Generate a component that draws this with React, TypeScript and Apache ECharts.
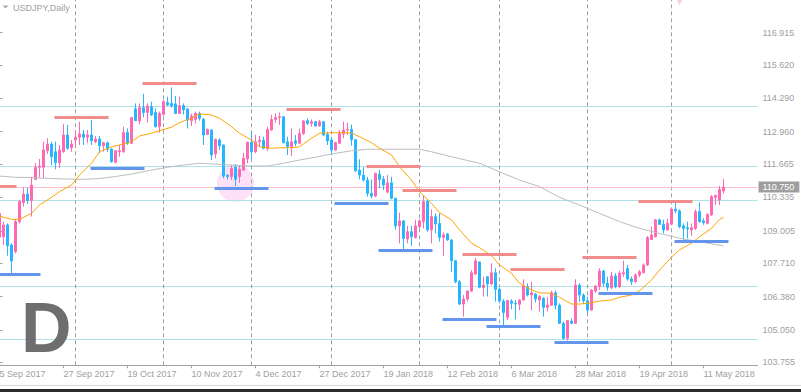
import React, { useEffect, useRef } from "react";
import * as echarts from "echarts";

// ---- trading days (MT4 daily bars), plus a few empty future slots on the right ----
const sep2017 = [5, 6, 7, 8, 11, 12, 13, 14, 15, 18, 19, 20, 21, 22, 25, 26, 27, 28, 29];
const oct2017 = [2, 3, 4, 5, 6, 9, 10, 11, 12, 13, 16, 17, 18, 19, 20, 23, 24, 25, 26, 27, 30, 31];
const nov2017 = [1, 2, 3, 6, 7, 8, 9, 10, 13, 14, 15, 16, 17, 20, 21, 22, 23, 24, 27, 28, 29, 30];
const dec2017 = [1, 4, 5, 6, 7, 8, 11, 12, 13, 14, 15, 18, 19, 20, 21, 22, 26, 27, 28, 29];
const jan2018 = [2, 3, 4, 5, 8, 9, 10, 11, 12, 15, 16, 17, 18, 19, 22, 23, 24, 25, 26, 29, 30, 31];
const feb2018 = [1, 2, 5, 6, 7, 8, 9, 12, 13, 14, 15, 16, 19, 20, 21, 22, 23, 26, 27, 28];
const mar2018 = [1, 2, 5, 6, 7, 8, 9, 12, 13, 14, 15, 16, 19, 20, 21, 22, 23, 26, 27, 28, 29, 30];
const apr2018 = [2, 3, 4, 5, 6, 9, 10, 11, 12, 13, 16, 17, 18, 19, 20, 23, 24, 25, 26, 27, 30];
const may2018 = [1, 2, 3, 4, 7, 8, 9, 10, 11, 14, 15, 16, 17, 18, 21, 22, 23, 24, 25, 28, 29, 30];

const categories: string[] = [
  ...sep2017.map((d) => `${d} Sep 2017`),
  ...oct2017.map((d) => `${d} Oct 2017`),
  ...nov2017.map((d) => `${d} Nov 2017`),
  ...dec2017.map((d) => `${d} Dec 2017`),
  ...jan2018.map((d) => `${d} Jan 2018`),
  ...feb2018.map((d) => `${d} Feb 2018`),
  ...mar2018.map((d) => `${d} Mar 2018`),
  ...apr2018.map((d) => `${d} Apr 2018`),
  ...may2018.map((d) => `${d} May 2018`),
];

// ---- OHLC (USDJPY daily) ----
const opens = [
  108.75, 108.77, 109.24, 108.44, 108.17, 109.37, 110.13, 110.47, 110.21, 111.06,
  111.54, 111.54, 112.2, 112.47, 112.16, 111.72, 112.16, 112.83, 112.32, 112.63,
  112.74, 112.87, 112.74, 112.83, 112.56, 112.67, 112.4, 112.52, 112.27, 111.74,
  112.16, 112.16, 112.93, 112.5, 113.87, 113.39, 113.92, 113.73, 113.96, 113.73,
  113.16, 113.65, 114.13, 114.09, 114.07, 113.69, 114.0, 113.87, 113.4, 113.45,
  113.69, 113.45, 112.85, 113.03, 112.07, 112.63, 112.43, 111.22, 111.17, 111.54,
  111.17, 111.43, 111.87, 112.54, 112.16, 112.56, 112.62, 112.28, 113.03, 113.45,
  113.53, 113.56, 112.56, 112.36, 112.6, 112.5, 112.89, 113.4, 113.29, 113.36,
  113.19, 113.36, 112.85, 112.63, 112.23, 112.5, 112.87, 113.03, 113.05, 112.64,
  111.43, 111.23, 111.03, 110.5, 110.39, 111.26, 111.06, 110.55, 110.92, 110.3,
  109.2, 109.4, 108.68, 108.97, 108.73, 109.17, 109.37, 110.17, 109.04, 109.57,
  109.3, 108.74, 108.88, 108.64, 107.81, 106.97, 106.08, 106.28, 106.6, 107.28,
  107.76, 106.74, 107.17, 106.88, 107.33, 106.67, 106.2, 105.55, 106.2, 106.11,
  106.07, 106.24, 106.77, 106.44, 106.48, 106.24, 106.31, 105.95, 106.03, 106.53,
  106.03, 105.31, 104.71, 105.4, 105.31, 106.84, 106.44, 106.21, 105.84, 106.6,
  106.78, 107.4, 106.91, 106.73, 107.2, 106.77, 107.28, 107.5, 107.08, 106.97,
  107.24, 107.33, 107.64, 108.66, 108.77, 109.44, 109.26, 109.04, 109.27, 109.87,
  109.8, 109.2, 109.13, 109.04, 109.1, 109.77, 109.4, 109.3, 109.64, 110.34,
  110.23, 110.6,
];
const highs = [
  109.78, 109.37, 109.3, 108.5, 109.44, 110.23, 110.74, 110.74, 111.16, 111.7,
  111.87, 112.56, 112.7, 112.56, 112.56, 112.43, 113.27, 113.23, 112.63, 113.03,
  113.36, 113.03, 113.03, 113.43, 112.79, 112.79, 112.56, 112.56, 112.3, 112.23,
  112.43, 113.16, 113.09, 113.56, 114.09, 114.09, 114.47, 114.09, 114.16, 113.89,
  113.76, 114.23, 114.36, 114.73, 114.39, 114.36, 114.09, 113.89, 113.69, 113.76,
  113.76, 113.52, 113.09, 113.05, 112.68, 112.7, 112.45, 111.27, 111.63, 111.67,
  111.63, 112.12, 112.56, 112.96, 112.83, 112.8, 112.76, 113.16, 113.63, 113.69,
  113.73, 113.58, 112.76, 113.09, 112.83, 113.09, 113.43, 113.49, 113.45, 113.39,
  113.43, 113.36, 112.96, 112.76, 112.56, 113.03, 113.36, 113.32, 113.25, 112.66,
  111.86, 111.56, 111.16, 111.06, 111.32, 111.43, 111.19, 111.23, 111.16, 110.32,
  109.73, 109.42, 109.2, 109.2, 109.44, 109.46, 110.43, 110.24, 109.86, 109.7,
  109.7, 108.95, 108.92, 108.66, 107.84, 107.04, 106.44, 106.64, 107.44, 107.91,
  107.77, 107.17, 107.2, 107.71, 107.51, 106.71, 106.27, 106.24, 106.27, 106.24,
  106.27, 107.07, 106.91, 106.97, 106.53, 106.44, 106.35, 106.35, 106.61, 106.61,
  106.11, 105.38, 105.45, 105.51, 107.07, 106.91, 106.51, 106.37, 106.67, 106.84,
  107.51, 107.44, 107.17, 107.37, 107.31, 107.41, 107.81, 107.64, 107.17, 107.31,
  107.44, 107.71, 108.8, 109.17, 109.48, 109.5, 109.44, 109.5, 109.9, 110.13,
  109.86, 109.3, 109.37, 109.3, 109.86, 110.13, 109.5, 109.7, 110.43, 110.43,
  110.8, 111.07,
];
const lows = [
  108.7, 108.44, 108.01, 107.27, 108.1, 109.3, 109.97, 110.07, 109.57, 111.03,
  111.14, 111.1, 112.07, 111.63, 111.46, 111.5, 112.12, 112.23, 112.16, 112.43,
  112.43, 112.43, 112.5, 112.43, 112.5, 112.1, 112.16, 112.16, 111.72, 111.7,
  111.96, 112.12, 112.43, 112.46, 113.39, 113.25, 113.53, 113.32, 113.59, 113.13,
  112.92, 113.6, 113.99, 113.92, 113.67, 113.66, 113.65, 113.09, 113.19, 113.29,
  113.4, 112.43, 112.83, 111.83, 111.9, 112.23, 111.1, 111.06, 111.03, 110.79,
  110.92, 111.4, 111.7, 111.83, 112.1, 112.36, 112.26, 112.2, 113.0, 113.32,
  113.23, 112.5, 112.03, 111.99, 112.38, 112.47, 112.83, 113.23, 113.16, 113.16,
  113.16, 112.79, 112.43, 112.03, 112.2, 112.47, 112.7, 112.83, 112.4, 111.36,
  111.06, 110.97, 110.37, 110.3, 110.34, 110.7, 110.63, 110.5, 110.26, 109.04,
  108.5, 108.24, 108.5, 108.4, 108.7, 109.1, 109.1, 108.97, 108.5, 108.9,
  108.57, 108.0, 108.61, 107.37, 106.91, 106.04, 105.58, 106.18, 106.57, 107.24,
  106.71, 106.38, 106.38, 106.84, 106.18, 106.11, 105.2, 105.44, 105.87, 105.47,
  105.84, 106.22, 106.38, 105.82, 106.14, 105.78, 105.58, 105.78, 106.0, 105.87,
  105.28, 104.65, 104.62, 105.28, 105.28, 106.17, 106.08, 105.71, 105.82, 106.53,
  106.64, 106.77, 106.61, 106.67, 106.71, 106.71, 107.17, 107.01, 106.84, 106.93,
  107.15, 107.31, 107.6, 108.64, 108.74, 109.24, 108.9, 109.01, 109.24, 109.7,
  109.1, 108.57, 108.7, 108.8, 109.04, 109.33, 109.24, 109.26, 109.6, 110.03,
  110.03, 110.5,
];
const closes = [
  109.7, 109.24, 108.41, 107.8, 109.37, 110.17, 110.47, 110.21, 110.83, 111.54,
  111.59, 112.23, 112.47, 111.96, 111.72, 112.23, 112.83, 112.3, 112.47, 112.74,
  112.87, 112.74, 112.83, 112.6, 112.67, 112.4, 112.52, 112.26, 111.76, 112.2,
  112.2, 112.93, 112.5, 113.52, 113.4, 113.92, 113.73, 113.99, 113.63, 113.16,
  113.69, 114.16, 114.03, 113.99, 113.69, 114.0, 113.83, 113.43, 113.59, 113.69,
  113.5, 112.83, 113.05, 112.03, 112.66, 112.4, 111.19, 111.17, 111.5, 111.06,
  111.46, 111.9, 112.54, 112.16, 112.56, 112.62, 112.3, 113.05, 113.45, 113.53,
  113.56, 112.52, 112.36, 112.56, 112.5, 112.89, 113.39, 113.29, 113.36, 113.19,
  113.36, 112.83, 112.59, 112.23, 112.52, 112.89, 113.03, 113.05, 112.64, 111.4,
  111.23, 111.03, 110.5, 110.39, 111.3, 111.06, 110.83, 110.92, 110.3, 109.2,
  109.4, 108.7, 108.97, 108.77, 109.2, 109.4, 110.17, 109.04, 109.57, 109.28,
  108.74, 108.84, 108.64, 107.81, 106.97, 106.08, 106.28, 106.6, 107.33, 107.8,
  106.75, 106.84, 106.88, 107.33, 106.67, 106.2, 105.74, 106.22, 106.11, 106.08,
  106.24, 106.81, 106.44, 106.53, 106.28, 106.38, 105.95, 106.04, 106.53, 106.03,
  105.31, 104.71, 105.42, 105.31, 106.84, 106.44, 106.21, 105.84, 106.64, 106.8,
  107.4, 106.91, 106.75, 107.2, 106.77, 107.31, 107.33, 107.08, 106.97, 107.24,
  107.37, 107.64, 108.74, 108.84, 109.44, 109.26, 109.04, 109.3, 109.87, 109.8,
  109.17, 109.1, 109.08, 109.13, 109.77, 109.37, 109.33, 109.66, 110.37, 110.42,
  110.65, 110.75,
];

// ---- moving averages ----
const maFast: [string, number][] = [
  ["5 Sep 2017", 109.59], ["8 Sep 2017", 109.46], ["12 Sep 2017", 109.46], ["15 Sep 2017", 109.7],
  ["19 Sep 2017", 110.04], ["22 Sep 2017", 110.34], ["26 Sep 2017", 110.57], ["29 Sep 2017", 110.83],
  ["3 Oct 2017", 111.23], ["6 Oct 2017", 111.7], ["10 Oct 2017", 112.16], ["13 Oct 2017", 112.36],
  ["17 Oct 2017", 112.43], ["20 Oct 2017", 112.56], ["24 Oct 2017", 112.79], ["27 Oct 2017", 112.9],
  ["31 Oct 2017", 113.0], ["3 Nov 2017", 113.14], ["7 Nov 2017", 113.32], ["10 Nov 2017", 113.5],
  ["14 Nov 2017", 113.67], ["17 Nov 2017", 113.63], ["21 Nov 2017", 113.5], ["24 Nov 2017", 113.16],
  ["28 Nov 2017", 112.9], ["1 Dec 2017", 112.63], ["5 Dec 2017", 112.36], ["8 Dec 2017", 112.3],
  ["12 Dec 2017", 112.32], ["15 Dec 2017", 112.32], ["19 Dec 2017", 112.36], ["22 Dec 2017", 112.7],
  ["27 Dec 2017", 112.9], ["2 Jan 2018", 112.92], ["4 Jan 2018", 112.92], ["9 Jan 2018", 112.91],
  ["11 Jan 2018", 112.76], ["16 Jan 2018", 112.52], ["18 Jan 2018", 112.3], ["23 Jan 2018", 112.03],
  ["25 Jan 2018", 111.56], ["30 Jan 2018", 111.03], ["1 Feb 2018", 110.57], ["6 Feb 2018", 110.1],
  ["8 Feb 2018", 109.73], ["13 Feb 2018", 109.44], ["15 Feb 2018", 109.04], ["20 Feb 2018", 108.51],
  ["22 Feb 2018", 108.33], ["27 Feb 2018", 108.01], ["1 Mar 2018", 107.64], ["6 Mar 2018", 107.31],
  ["8 Mar 2018", 106.91], ["13 Mar 2018", 106.64], ["15 Mar 2018", 106.53], ["20 Mar 2018", 106.51],
  ["22 Mar 2018", 106.35], ["27 Mar 2018", 106.08], ["29 Mar 2018", 106.08], ["3 Apr 2018", 106.13],
  ["5 Apr 2018", 106.2], ["10 Apr 2018", 106.24], ["12 Apr 2018", 106.35], ["17 Apr 2018", 106.44],
  ["19 Apr 2018", 106.61], ["24 Apr 2018", 107.04], ["26 Apr 2018", 107.44], ["1 May 2018", 107.95],
  ["3 May 2018", 108.24], ["8 May 2018", 108.51], ["10 May 2018", 108.77], ["15 May 2018", 109.1],
  ["17 May 2018", 109.46], ["18 May 2018", 109.54],
];
const maSlow: [string, number][] = [
  ["5 Sep 2017", 111.19], ["11 Sep 2017", 111.14], ["15 Sep 2017", 111.13], ["22 Sep 2017", 111.09],
  ["28 Sep 2017", 111.07], ["4 Oct 2017", 111.06], ["10 Oct 2017", 111.09], ["16 Oct 2017", 111.17],
  ["20 Oct 2017", 111.27], ["27 Oct 2017", 111.43], ["2 Nov 2017", 111.54], ["8 Nov 2017", 111.63],
  ["14 Nov 2017", 111.7], ["24 Nov 2017", 111.63], ["1 Dec 2017", 111.59], ["7 Dec 2017", 111.59],
  ["13 Dec 2017", 111.7], ["19 Dec 2017", 111.83], ["26 Dec 2017", 111.94], ["2 Jan 2018", 112.07],
  ["9 Jan 2018", 112.2], ["15 Jan 2018", 112.26], ["25 Jan 2018", 112.26], ["1 Feb 2018", 112.26],
  ["6 Feb 2018", 112.16], ["13 Feb 2018", 111.96], ["22 Feb 2018", 111.7], ["1 Mar 2018", 111.36],
  ["8 Mar 2018", 111.03], ["15 Mar 2018", 110.77], ["22 Mar 2018", 110.34], ["29 Mar 2018", 110.03],
  ["5 Apr 2018", 109.7], ["12 Apr 2018", 109.37], ["19 Apr 2018", 109.1], ["26 Apr 2018", 108.9],
  ["3 May 2018", 108.71], ["10 May 2018", 108.57], ["18 May 2018", 108.4],
];

// ---- drawn objects ----
const horizontalLevels = [113.99, 111.58, 110.22, 106.79, 104.66];
const resistanceSegments: [string, string, number][] = [
  ["5 Sep 2017", "11 Sep 2017", 110.78],
  ["25 Sep 2017", "12 Oct 2017", 113.52],
  ["25 Oct 2017", "13 Nov 2017", 114.88],
  ["14 Dec 2017", "4 Jan 2018", 113.84],
  ["15 Jan 2018", "1 Feb 2018", 111.6],
  ["26 Jan 2018", "14 Feb 2018", 110.64],
  ["16 Feb 2018", "7 Mar 2018", 108.05],
  ["6 Mar 2018", "23 Mar 2018", 107.45],
  ["30 Mar 2018", "18 Apr 2018", 107.93],
  ["19 Apr 2018", "8 May 2018", 110.17],
];
const supportSegments: [string, string, number][] = [
  ["5 Sep 2017", "19 Sep 2017", 107.25],
  ["6 Oct 2017", "25 Oct 2017", 111.52],
  ["20 Nov 2017", "7 Dec 2017", 110.71],
  ["3 Jan 2018", "22 Jan 2018", 110.09],
  ["18 Jan 2018", "6 Feb 2018", 108.21],
  ["9 Feb 2018", "28 Feb 2018", 105.46],
  ["26 Feb 2018", "15 Mar 2018", 105.18],
  ["21 Mar 2018", "9 Apr 2018", 104.54],
  ["5 Apr 2018", "24 Apr 2018", 106.53],
  ["2 May 2018", "21 May 2018", 108.57],
];
const highlightPoint: [string, number] = ["27 Nov 2017", 110.9];
const arrowMarker: [string, number] = ["3 May 2018", 118.21];

const yTickValues = [103.755, 105.05, 106.38, 107.71, 109.005, 110.335, 111.665, 112.96, 114.29, 115.62, 116.915];
const yMin = 103.635;
const yMax = 118.218;

const symbolName = "USDJPY,Daily";
const cornerLetter = "D";

const FONT = "'Liberation Sans', Arial, sans-serif";
const BULL = "#ff69b4";
const BEAR = "#26b6ff";
const AXIS_GREY = "#a0a0a0";

export default function App() {
  const ref = useRef<HTMLDivElement>(null);

  useEffect(() => {
    if (!ref.current) return;
    const chart = echarts.init(ref.current, undefined, { renderer: "svg" });

    const candleData = opens.map((o, i) => [o, closes[i], lows[i], highs[i]]);
    const lastClose = closes[closes.length - 1];
    const idx = (d: string) => categories.indexOf(d);

    const monthStarts: string[] = [];
    for (let i = 1; i < categories.length; i++) {
      const m0 = categories[i - 1].split(" ")[1];
      const m1 = categories[i].split(" ")[1];
      if (m0 !== m1) monthStarts.push(categories[i]);
    }

    const segData = (segs: [string, string, number][]) =>
      segs.map(([a, b, p]) => ({ coords: [[idx(a) - 0.25, p], [idx(b) + 0.25, p]] }));

    const option: any = {
      animation: false,
      backgroundColor: "#ffffff",
      grid: { left: -2.5, top: 0, width: 760, height: 365.3, outerBoundsMode: "none", containLabel: false },
      xAxis: [
        {
          type: "category",
          data: categories,
          boundaryGap: true,
          axisLine: { show: true, lineStyle: { color: AXIS_GREY, width: 1 } },
          axisTick: { show: true, interval: 15, length: 3, alignWithLabel: true, lineStyle: { color: AXIS_GREY } },
          axisLabel: {
            interval: 15,
            align: "left",
            color: AXIS_GREY,
            fontSize: 9,
            fontFamily: FONT,
            margin: 4,
          },
          splitLine: { show: false },
        },
        { type: "value", min: -0.5, max: categories.length - 0.5, show: false, gridIndex: 0 },
      ],
      yAxis: {
        type: "value",
        position: "right",
        min: yMin,
        max: yMax,
        scale: true,
        axisLine: { show: true, lineStyle: { color: AXIS_GREY, width: 1 } },
        axisTick: { show: true, length: 3, customValues: yTickValues, lineStyle: { color: AXIS_GREY } },
        axisLabel: {
          customValues: yTickValues,
          formatter: (v: number) => v.toFixed(3),
          color: AXIS_GREY,
          fontSize: 9,
          fontFamily: FONT,
          margin: 5,
        },
        splitLine: { show: false },
      },
      graphic: [
        {
          type: "polygon",
          shape: { points: [[2.5, 5.5], [8.5, 5.5], [5.5, 8.5]] },
          style: { fill: "#a8a8a8" },
          z: 100,
        },
        {
          type: "text",
          x: 13,
          y: 7.5,
          style: { text: symbolName, fill: AXIS_GREY, fontSize: 9, fontFamily: FONT, verticalAlign: "middle", align: "left" },
          z: 100,
        },
        {
          type: "text",
          x: 21,
          y: 328.4,
          style: {
            text: cornerLetter,
            fill: "#6e6e6e",
            fontSize: 70,
            fontWeight: "bold",
            fontFamily: FONT,
            verticalAlign: "middle",
            align: "left",
          },
          z: 100,
        },
        { type: "rect", shape: { x: 0, y: 385, width: 801, height: 1 }, style: { fill: "#d8d8d8" }, z: 100 },
        { type: "rect", shape: { x: 0, y: 389, width: 801, height: 3 }, style: { fill: "#2c2c2c" }, z: 100 },
      ],
      series: [
        {
          type: "scatter",
          name: "highlight",
          data: [highlightPoint],
          symbolSize: 37,
          itemStyle: { color: "#fcd9f6" },
          z: 0,
          silent: true,
        },
        {
          type: "line",
          name: "MA slow",
          data: maSlow,
          showSymbol: false,
          symbol: "none",
          lineStyle: { color: "#bdbdbd", width: 1 },
          z: 4,
          markLine: {
            z: 1,
            silent: true,
            symbol: ["none", "none"],
            label: { show: false },
            data: [
              ...horizontalLevels.map((p) => ({ yAxis: p, lineStyle: { color: "#aee1e8", width: 1, type: "solid" } })),
              ...monthStarts.map((d) => ({ xAxis: d, lineStyle: { color: "#a0a0a0", width: 1, type: [4, 3] } })),
            ],
          },
        },
        {
          type: "candlestick",
          name: "USDJPY",
          data: candleData,
          barWidth: 2,
          z: 3,
          itemStyle: { color: BULL, color0: BEAR, borderColor: BULL, borderColor0: BEAR, borderWidth: 1 },
          markLine: {
            z: 2,
            silent: true,
            symbol: ["none", "none"],
            data: [{ yAxis: lastClose }],
            lineStyle: { color: "#ffc0cb", width: 1, type: "solid" },
            label: {
              show: true,
              position: "end",
              formatter: () => lastClose.toFixed(3),
              color: "#ffffff",
              backgroundColor: "#9e9e9e",
              padding: [1, 5, 1, 4],
              lineHeight: 9,
              fontSize: 9,
              fontFamily: FONT,
              distance: 1,
            },
          },
        },
        {
          type: "line",
          name: "MA fast",
          data: maFast,
          showSymbol: false,
          symbol: "none",
          lineStyle: { color: "#ffa500", width: 1 },
          z: 4,
        },
        {
          type: "lines",
          name: "resistance",
          coordinateSystem: "cartesian2d",
          xAxisIndex: 1,
          yAxisIndex: 0,
          data: segData(resistanceSegments),
          lineStyle: { color: "#f08c8c", width: 3, opacity: 1 },
          z: 5,
          silent: true,
        },
        {
          type: "lines",
          name: "support",
          coordinateSystem: "cartesian2d",
          xAxisIndex: 1,
          yAxisIndex: 0,
          data: segData(supportSegments),
          lineStyle: { color: "#6495ed", width: 3, opacity: 1 },
          z: 5,
          silent: true,
        },
        {
          type: "scatter",
          name: "arrow",
          data: [arrowMarker],
          symbol: "triangle",
          symbolRotate: 180,
          symbolSize: [10, 10],
          itemStyle: { color: "#ffc0cb" },
          z: 6,
          silent: true,
        },
      ],
    };

    chart.setOption(option);
    return () => chart.dispose();
  }, []);

  return (
    <div
      ref={ref}
      style={{ position: "absolute", left: 0, top: 0, width: 801, height: 392, background: "#fff" }}
    />
  );
}
